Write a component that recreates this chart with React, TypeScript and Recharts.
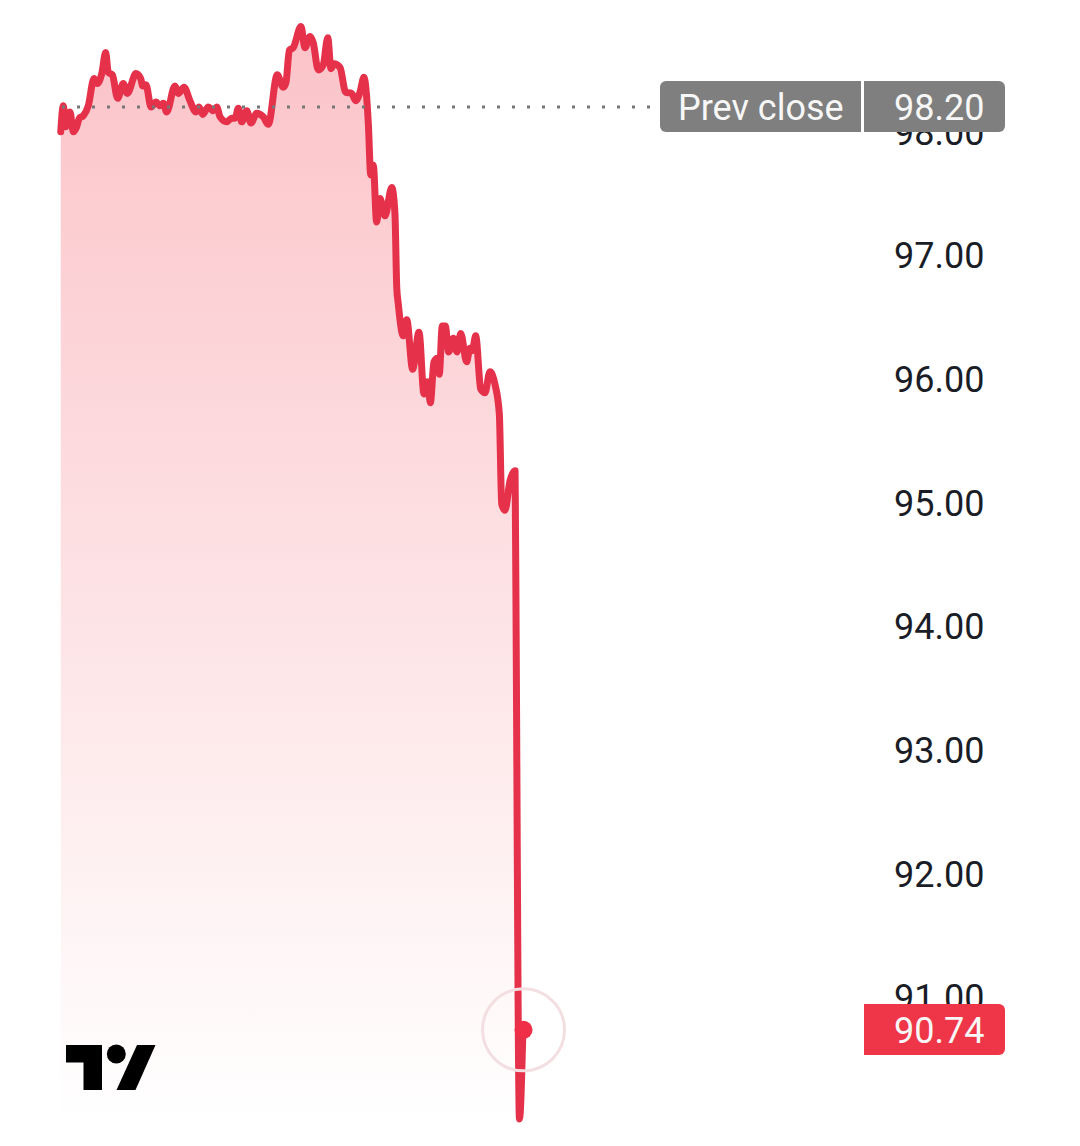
import { ComposedChart, Area, XAxis, YAxis, ReferenceLine, ReferenceDot } from "recharts";

const minutes = [
  0.5, 2.2, 3.8, 6.6, 8.8, 11.0, 12.8, 15.4, 18.7, 22.5, 24.7, 27.6, 30.2, 31.9, 34.6, 38.1, 41.8, 44.5, 50.2, 53.3,
  54.7, 56.8, 60.2, 63.5, 66.1, 68.3, 70.5, 76.0, 78.2, 82.0, 85.9, 89.9, 91.9, 94.3, 98.0, 101.3, 103.6, 105.8, 110.2, 113.5,
  115.7, 117.9, 120.1, 123.4, 126.3, 130.0, 134.4, 137.7, 143.6, 147.6, 149.4, 151.6, 154.2, 159.3, 161.9, 165.3, 167.4, 170.7, 174.0, 177.0,
  179.1, 181.1, 185.1, 188.8, 192.8, 195.5, 198.3, 200.9, 203.8, 205.4, 207.1, 209.3, 211.5, 214.8, 219.3, 221.4, 222.6, 223.6, 226.9, 229.2,
  233.1, 237.3, 240.6, 243.1, 244.8, 247.2, 249.4, 250.7, 252.7, 254.7, 256.9, 260.0, 262.4, 264.9, 268.8, 271.0, 272.5, 274.8, 278.1, 280.9,
  284.2, 287.5, 290.4, 292.0, 294.1, 297.5, 300.8, 301.1, 303.7, 306.0,
];

const prices = [
  98.0, 98.21, 98.04, 98.16, 98.0, 98.04, 98.11, 98.13, 98.21, 98.43, 98.39, 98.47, 98.64, 98.48, 98.46, 98.27, 98.39, 98.31, 98.47, 98.43,
  98.37, 98.38, 98.2, 98.24, 98.21, 98.23, 98.16, 98.37, 98.31, 98.36, 98.25, 98.16, 98.2, 98.14, 98.2, 98.17, 98.2, 98.12, 98.08, 98.11,
  98.11, 98.19, 98.08, 98.17, 98.07, 98.15, 98.12, 98.06, 98.46, 98.36, 98.4, 98.66, 98.68, 98.85, 98.68, 98.77, 98.72, 98.5, 98.54, 98.76,
  98.51, 98.55, 98.52, 98.32, 98.31, 98.25, 98.32, 98.44, 98.07, 97.65, 97.73, 97.27, 97.46, 97.32, 97.55, 97.34, 96.74, 96.61, 96.35, 96.48,
  96.08, 96.38, 95.88, 95.98, 95.81, 96.14, 96.17, 96.04, 96.43, 96.43, 96.22, 96.33, 96.22, 96.37, 96.14, 96.25, 96.23, 96.35, 95.92, 95.89,
  96.06, 95.96, 95.72, 94.99, 94.94, 95.18, 95.26, 94.78, 90.02, 90.74,
];

const priceTicks = [91, 92, 93, 94, 95, 96, 97, 98];
const prevClose = 98.2;
const lastPrice = 90.74;
const lastMinute = 306.4;

const chartData = minutes.map((minute, i) => ({ minute, price: prices[i] }));

const RED = "#e5324a";
const FONT = "Roboto, sans-serif";

// price tag sitting on the axis, same look as the TradingView widget
function Tag(props: { left: number; top: number; width: number; bg: string; radius: string; pad: number; children: string }) {
  return (
    <div
      style={{
        position: "absolute",
        left: props.left,
        top: props.top,
        width: props.width,
        height: 51,
        lineHeight: "55px",
        boxSizing: "border-box",
        paddingLeft: props.pad,
        background: props.bg,
        borderRadius: props.radius,
        color: "#f7f7f7",
        fontFamily: FONT,
        fontSize: 36,
        whiteSpace: "nowrap",
      }}
    >
      {props.children}
    </div>
  );
}

export default function App() {
  return (
    <div style={{ position: "absolute", left: 0, top: 0, width: 1080, height: 1146, background: "#fff", overflow: "hidden" }}>
      <ComposedChart width={1080} height={1146} data={chartData} margin={{ top: 0, right: 0, bottom: 0, left: 60 }}>
        <defs>
          <linearGradient id="fade" x1="0" y1="0" x2="0" y2="1">
            <stop offset="0%" stopColor="#fbc3c8" />
            <stop offset="98%" stopColor="#ffffff" />
          </linearGradient>
        </defs>

        <XAxis dataKey="minute" type="number" domain={[0, 390]} hide />
        <YAxis
          orientation="right"
          width={430}
          domain={[89.801, 99.065]}
          ticks={priceTicks}
          interval={0}
          tickFormatter={(v: number) => v.toFixed(2)}
          axisLine={false}
          tickLine={false}
          tickSize={0}
          tickMargin={244}
          tick={{ fontFamily: FONT, fontSize: 36, fill: "#1a1d26" }}
        />

        <ReferenceLine y={prevClose} stroke="#777" strokeWidth={3} strokeDasharray="3 12" />

        <Area
          dataKey="price"
          type="monotone"
          stroke={RED}
          strokeWidth={7}
          strokeLinejoin="round"
          strokeLinecap="round"
          fill="url(#fade)"
          fillOpacity={1}
          isAnimationActive={false}
          dot={false}
          activeDot={false}
        />

        <ReferenceDot x={lastMinute} y={lastPrice} r={41} fill="none" stroke="#f3dfe1" strokeWidth={3} />
        <ReferenceDot x={lastMinute} y={lastPrice} r={9} fill="#ee2f47" stroke="none" />
      </ComposedChart>

      <Tag left={660} top={81} width={201} bg="#7f7f7f" radius="6px 0 0 6px" pad={18}>Prev close</Tag>
      <Tag left={864} top={81} width={141} bg="#7f7f7f" radius="0 6px 6px 0" pad={30}>98.20</Tag>
      <Tag left={864} top={1004} width={141} bg="#ef3649" radius="0 6px 6px 0" pad={30}>90.74</Tag>

      <svg width={100} height={55} viewBox="60 1040 100 55" style={{ position: "absolute", left: 60, top: 1040 }}>
        <path d="M66 1045H102V1090H83.5V1062.5H66Z" fill="#000" />
        <circle cx={116.3} cy={1054} r={9.5} fill="#000" />
        <path d="M137 1045H155.5L135.5 1090H116.5Z" fill="#000" />
      </svg>
    </div>
  );
}
